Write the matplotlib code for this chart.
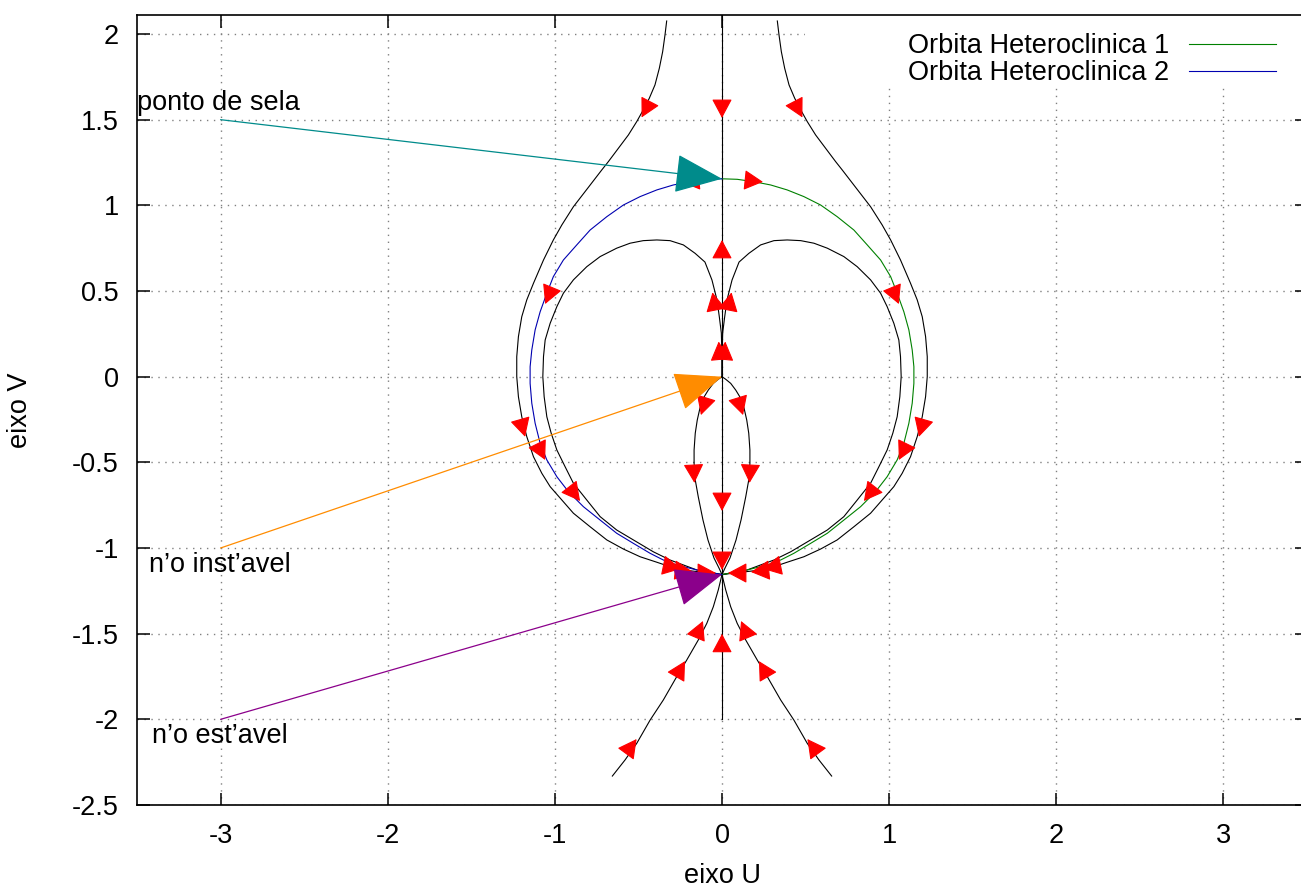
import matplotlib
matplotlib.use('Agg')
import matplotlib.pyplot as plt
from matplotlib.lines import Line2D
from matplotlib.patches import Rectangle

plt.rcParams['font.family'] = ['Liberation Sans', 'DejaVu Sans']
plt.rcParams['axes.unicode_minus'] = False

# ---- trajectories, left half (right half is the mirror image) ----
outer_u = [-0.331, -0.341, -0.355, -0.375, -0.401, -0.435, -0.471, -0.510, -0.560, -0.620,
           -0.680, -0.719, -0.798, -0.889, -0.958, -1.009, -1.068, -1.128, -1.168, -1.198,
           -1.218, -1.228, -1.228, -1.218, -1.198, -1.168, -1.128, -1.078, -1.028, -0.958,
           -0.889, -0.789, -0.689, -0.590, -0.490, -0.390, -0.311, -0.191, -0.091, 0.0]
outer_v = [2.076, 1.995, 1.897, 1.800, 1.703, 1.625, 1.557, 1.489, 1.411, 1.333,
           1.255, 1.207, 1.107, 0.992, 0.886, 0.798, 0.681, 0.545, 0.448, 0.350,
           0.234, 0.117, 0.0, -0.117, -0.234, -0.350, -0.467, -0.564, -0.642, -0.720,
           -0.797, -0.876, -0.953, -1.006, -1.051, -1.083, -1.109, -1.133, -1.144, -1.155]

hetero_u = [0.0, -0.091, -0.191, -0.291, -0.390, -0.490, -0.590, -0.689, -0.789, -0.869,
            -0.949, -1.009, -1.048, -1.088, -1.118, -1.138, -1.148, -1.148, -1.138, -1.118,
            -1.088, -1.048, -0.988, -0.919, -0.829, -0.729, -0.630, -0.530, -0.430, -0.351,
            -0.271, -0.151, 0.0]
hetero_v = [1.155, 1.152, 1.138, 1.119, 1.090, 1.051, 1.002, 0.934, 0.856, 0.769,
            0.681, 0.584, 0.487, 0.379, 0.273, 0.156, 0.058, -0.039, -0.155, -0.272,
            -0.389, -0.486, -0.584, -0.671, -0.759, -0.837, -0.914, -0.973, -1.031, -1.070,
            -1.099, -1.128, -1.155]

inner_u = [0.0, 0.0, -0.004, -0.016, -0.030, -0.060, -0.102, -0.161, -0.231, -0.311,
           -0.390, -0.471, -0.550, -0.630, -0.729, -0.809, -0.889, -0.949, -0.988, -1.028,
           -1.058, -1.068, -1.072, -1.064, -1.048, -1.022, -0.988, -0.939, -0.889, -0.809,
           -0.729, -0.630, -0.530, -0.411, -0.311, -0.231, -0.151, 0.0]
inner_v = [0.0, 0.115, 0.255, 0.349, 0.448, 0.564, 0.669, 0.720, 0.769, 0.794,
           0.798, 0.794, 0.779, 0.750, 0.701, 0.642, 0.565, 0.487, 0.409, 0.312,
           0.214, 0.117, 0.0, -0.117, -0.234, -0.330, -0.428, -0.525, -0.622, -0.720,
           -0.817, -0.895, -0.953, -1.022, -1.070, -1.099, -1.128, -1.155]

loop_u = [0.0, -0.022, -0.052, -0.082, -0.112, -0.132, -0.148, -0.160, -0.167, -0.167,
          -0.160, -0.142, -0.114, -0.084, -0.048, -0.018, 0.0]
loop_v = [0.0, -0.015, -0.039, -0.078, -0.126, -0.184, -0.253, -0.330, -0.428, -0.506,
          -0.603, -0.701, -0.836, -0.953, -1.058, -1.117, -1.155]

low_u = [0.0, -0.022, -0.052, -0.091, -0.142, -0.211, -0.271, -0.351, -0.430, -0.510,
         -0.580, -0.656]
low_v = [-1.155, -1.244, -1.343, -1.440, -1.537, -1.654, -1.751, -1.887, -2.004, -2.140,
         -2.237, -2.331]

axis_u = [0.0, 0.0]
axis_v = [-2.0, 2.11]

# direction arrows: tip u, tip v, direction du, dv
arrows_left = [
    (-0.481, 1.513, -0.47, -0.88),
    (-0.245, 1.137, -1.0, -0.1),
    (-1.058, 0.424, -0.39, -0.92),
    (-1.178, -0.351, 0.28, -0.96),
    (-1.058, -0.486, 0.45, -0.89),
    (-0.849, -0.726, 0.62, -0.78),
    (-0.126, -0.224, -0.3, -0.95),
    (-0.165, -0.620, 0.05, -1.0),
    (-0.057, 0.492, -0.2, 0.98),
    (-0.02, 0.205, -0.1, 1.0),
    (-0.245, -1.122, 1.0, -0.2),
    (-0.173, -1.140, 1.0, -0.1),
    (-0.036, -1.146, 1.0, 0.0),
    (-0.114, -1.426, 0.40, 0.92),
    (-0.221, -1.660, 0.51, 0.86),
    (-0.511, -2.115, 0.6, 0.8),
]
arrows_center = [
    (0.0, 1.510, 0.0, -1.0),
    (0.0, 0.798, 0.0, 1.0),
    (0.0, -0.784, 0.0, -1.0),
    (0.0, -1.128, 0.0, -1.0),
    (0.0, -1.501, 0.0, 1.0),
]

# labelled equilibria
label_names = ['ponto de sela', 'n\u2019o inst\u2019avel', 'n\u2019o est\u2019avel']
label_pos = [(-3.5, 1.6), (-3.43, -1.10), (-3.41, -2.10)]
point_from = [(-3.0, 1.5), (-3.0, -1.0), (-3.0, -2.0)]
point_to = [(0.0, 1.155), (0.0, 0.0), (0.0, -1.155)]
point_colors = ['#008b8b', '#ff8c00', '#8b008b']

legend_labels = ['Orbita Heteroclinica 1', 'Orbita Heteroclinica 2']

fig = plt.figure(figsize=(13.01, 8.88), dpi=100)
ax = fig.add_axes([137/1301, 83/888, 1170/1301, 790/888])
ax.set_xlim(-3.5, 3.5)
ax.set_ylim(-2.5, 2.111)

FS = 19.5
ax.set_xticks([-3, -2, -1, 0, 1, 2, 3])
ax.set_yticks([-2.5, -2, -1.5, -1, -0.5, 0, 0.5, 1, 1.5, 2])
ax.set_yticklabels(['-2.5', '-2', '-1.5', '-1', '-0.5', '0', '0.5', '1', '1.5', '2'])
ax.tick_params(direction='in', length=9, width=1.1, top=True, right=True,
               labelsize=FS, pad=13)
for s in ax.spines.values():
    s.set_linewidth(1.2)
ax.set_axisbelow(True)
ax.grid(True, color='#808080', lw=1.0, linestyle=(0, (1, 4)))
ax.set_xlabel('eixo U', fontsize=FS, labelpad=10)
ax.set_ylabel('eixo V', fontsize=FS, labelpad=28)

# white key area hides the grid
ax.add_patch(Rectangle((0.496, 1.703), 3.1, 0.5, facecolor='white',
                       edgecolor='none', zorder=1))

LW = 0.8
def curve(u, v, color='black'):
    ax.plot(u, v, color=color, lw=LW, zorder=2, solid_joinstyle='round')
    ax.plot([-x for x in u], v, color=color, lw=LW, zorder=2, solid_joinstyle='round')

curve(outer_u, outer_v)
curve(inner_u, inner_v)
curve(loop_u, loop_v)
curve(low_u, low_v)
ax.plot(axis_u, axis_v, color='black', lw=LW, zorder=2)
ax.plot([-x for x in hetero_u], hetero_v, color='#008000', lw=LW, zorder=3)
ax.plot(hetero_u, hetero_v, color='#0000b0', lw=LW, zorder=3)


def head(u, v, du, dv):
    n = (du**2 + dv**2) ** 0.5
    ax.annotate('', xy=(u, v), xytext=(u - 0.06*du/n, v - 0.06*dv/n),
                arrowprops=dict(arrowstyle='-|>,head_length=0.6,head_width=0.32',
                                color='#ff0000', lw=0.8, mutation_scale=20,
                                shrinkA=0, shrinkB=0), zorder=4)

for (u, v, du, dv) in arrows_left:
    head(u, v, du, dv)
    head(-u, v, -du, dv)
for (u, v, du, dv) in arrows_center:
    head(u, v, du, dv)

for name, lp, p0, p1, c in zip(label_names, label_pos, point_from, point_to, point_colors):
    ax.text(lp[0], lp[1], name, fontsize=FS, ha='left', va='center', zorder=6)
    ax.annotate('', xy=p1, xytext=p0,
                arrowprops=dict(arrowstyle='-|>,head_length=1.1,head_width=0.45',
                                color=c, lw=0.9, mutation_scale=28,
                                shrinkA=0, shrinkB=0), zorder=5)

handles = [Line2D([], [], color='#008000', lw=LW), Line2D([], [], color='#0000b0', lw=LW)]
ax.legend(handles, legend_labels, loc='upper right', bbox_to_anchor=(1276/1301, 855/888),
          bbox_transform=fig.transFigure, frameon=False, markerfirst=False,
          fontsize=FS, handlelength=3.2, handletextpad=0.75, labelspacing=0.05,
          borderpad=0, borderaxespad=0)

fig.savefig('out.png', dpi=100)
